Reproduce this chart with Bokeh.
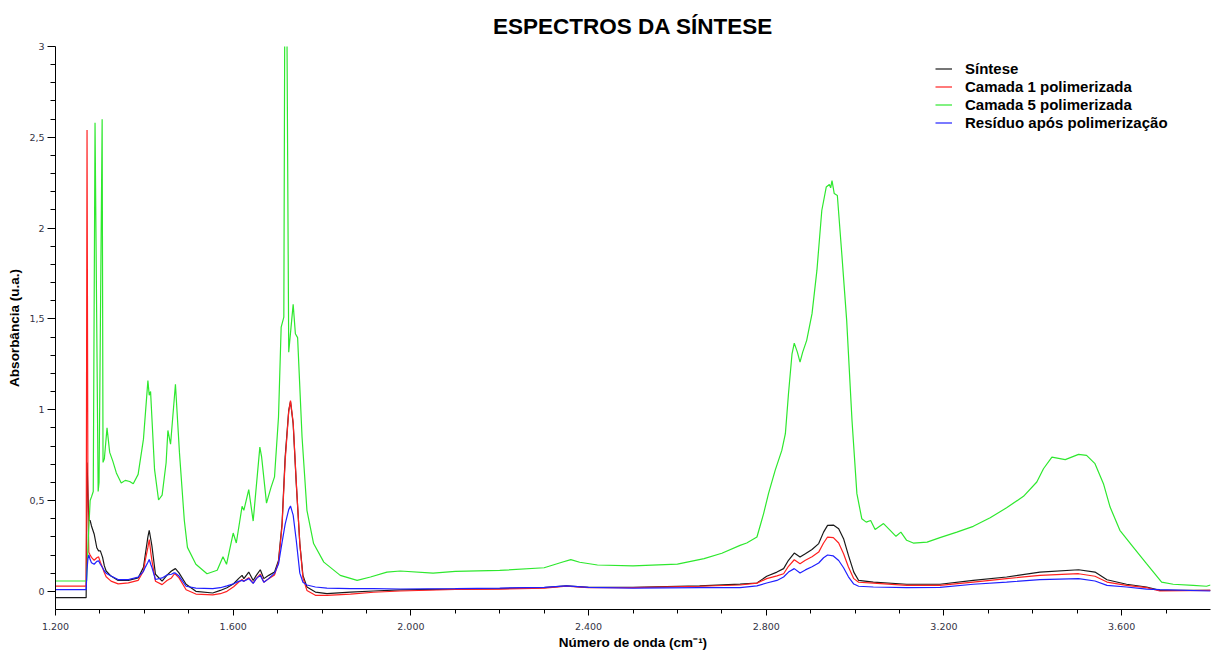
from bokeh.plotting import figure
from bokeh.models import FixedTicker, Legend, LegendItem, Range1d
from bokeh.embed import file_html
from bokeh.resources import INLINE

TITLE = "ESPECTROS DA SÍNTESE"
X_LABEL = "Número de onda (cm⁻¹)"
Y_LABEL = "Absorbância (u.a.)"
SERIES_NAMES = ["Síntese", "Camada 1 polimerizada", "Camada 5 polimerizada", "Resíduo após polimerização"]

X_TICKS = [1200, 1600, 2000, 2400, 2800, 3200, 3600]
X_TICK_LABELS = ["1.200", "1.600", "2.000", "2.400", "2.800", "3.200", "3.600"]
X_MINOR = [1300, 1400, 1500, 1700, 1800, 1900, 2100, 2200, 2300, 2500, 2600, 2700,
           2900, 3000, 3100, 3300, 3400, 3500, 3700]
Y_TICKS = [0, 0.5, 1, 1.5, 2, 2.5, 3]
Y_TICK_LABELS = ["0", "0,5", "1", "1,5", "2", "2,5", "3"]
Y_MINOR = [0.1, 0.2, 0.3, 0.4, 0.6, 0.7, 0.8, 0.9, 1.1, 1.2, 1.3, 1.4, 1.6, 1.7, 1.8, 1.9,
           2.1, 2.2, 2.3, 2.4, 2.6, 2.7, 2.8, 2.9]

# shared wavenumbers for the three lower spectra
wn_low = [1200, 1269, 1271, 1273, 1275, 1278, 1281, 1287, 1293, 1297, 1301, 1306, 1310, 1314,
          1325, 1341, 1364, 1386, 1398, 1402, 1408, 1411, 1415, 1417, 1425, 1440, 1451, 1461,
          1467, 1470, 1478, 1494, 1516, 1554, 1571, 1586, 1601, 1612, 1620, 1624, 1635, 1645,
          1652, 1661, 1669, 1680, 1693, 1702, 1710, 1717, 1725, 1729, 1735, 1742, 1750, 1757,
          1766, 1785, 1811, 1864, 1916, 1976, 2100, 2200, 2300, 2350, 2400, 2500, 2650, 2741,
          2779, 2801, 2824, 2839, 2850, 2863, 2876, 2888, 2903, 2918, 2929, 2938, 2951, 2963,
          2974, 2985, 2997, 3008, 3041, 3116, 3191, 3266, 3341, 3416, 3503, 3540, 3567, 3611,
          3656, 3686, 3800]

sintese = [-0.035, -0.035, 0.71, 0.55, 0.39, 0.39, 0.36, 0.316, 0.24, 0.223, 0.223, 0.187, 0.14, 0.112,
           0.084, 0.06, 0.06, 0.074, 0.132, 0.2, 0.30, 0.336, 0.28, 0.25, 0.094, 0.056, 0.089, 0.112,
           0.121, 0.125, 0.102, 0.039, 0.0, -0.009, 0.005, 0.02, 0.042, 0.07, 0.088, 0.07, 0.106, 0.06,
           0.088, 0.119, 0.07, 0.088, 0.106, 0.17, 0.373, 0.739, 0.996, 1.045, 0.923, 0.593, 0.263, 0.088,
           0.024, -0.004, -0.013, -0.004, 0.002, 0.008, 0.012, 0.015, 0.02, 0.03, 0.022, 0.022, 0.03, 0.04,
           0.046, 0.083, 0.106, 0.125, 0.171, 0.211, 0.189, 0.207, 0.23, 0.263, 0.326, 0.363, 0.365, 0.345,
           0.29, 0.198, 0.106, 0.06, 0.051, 0.039, 0.039, 0.06, 0.079, 0.106, 0.119, 0.106, 0.064, 0.039,
           0.024, 0.005, 0.005]

camada1 = [0.029, 0.029, 2.54, 0.5, 0.215, 0.2, 0.187, 0.171, 0.185, 0.19, 0.16, 0.13, 0.102, 0.08,
           0.056, 0.041, 0.047, 0.06, 0.112, 0.17, 0.242, 0.285, 0.205, 0.17, 0.056, 0.037, 0.06, 0.074,
           0.094, 0.094, 0.074, 0.009, -0.015, -0.019, -0.013, 0.0, 0.025, 0.05, 0.065, 0.055, 0.075, 0.045,
           0.07, 0.095, 0.05, 0.07, 0.09, 0.16, 0.36, 0.72, 0.99, 1.05, 0.93, 0.6, 0.26, 0.075,
           0.005, -0.022, -0.022, -0.015, -0.005, 0.002, 0.01, 0.012, 0.018, 0.028, 0.02, 0.02, 0.028, 0.035,
           0.045, 0.07, 0.085, 0.097, 0.138, 0.174, 0.152, 0.171, 0.19, 0.216, 0.266, 0.299, 0.296, 0.266,
           0.207, 0.134, 0.07, 0.05, 0.045, 0.033, 0.033, 0.051, 0.07, 0.088, 0.097, 0.083, 0.051, 0.033,
           0.02, 0.002, 0.005]

residuo = [0.009, 0.009, 0.12, 0.18, 0.2, 0.175, 0.158, 0.149, 0.165, 0.168, 0.149, 0.13, 0.112, 0.1,
           0.084, 0.065, 0.065, 0.078, 0.11, 0.132, 0.16, 0.175, 0.145, 0.132, 0.065, 0.074, 0.09, 0.094,
           0.102, 0.1, 0.084, 0.028, 0.018, 0.015, 0.02, 0.03, 0.042, 0.055, 0.06, 0.055, 0.07, 0.044,
           0.07, 0.088, 0.05, 0.07, 0.1, 0.15, 0.27, 0.37, 0.45, 0.47, 0.42, 0.28, 0.1, 0.05,
           0.035, 0.024, 0.018, 0.015, 0.015, 0.013, 0.015, 0.018, 0.022, 0.03, 0.022, 0.018, 0.02, 0.02,
           0.03, 0.046, 0.06, 0.079, 0.106, 0.125, 0.101, 0.118, 0.135, 0.156, 0.185, 0.2, 0.195, 0.17,
           0.13, 0.08, 0.04, 0.028, 0.024, 0.02, 0.022, 0.039, 0.051, 0.064, 0.07, 0.057, 0.033, 0.024,
           0.012, 0.009, 0.002]

wn_c5 = [1200, 1270, 1274, 1278, 1281, 1285, 1289, 1296, 1298, 1305, 1307, 1310, 1316, 1322, 1329,
         1337, 1348, 1357, 1367, 1375, 1386, 1398, 1408, 1411, 1414, 1423, 1432, 1440, 1449, 1453,
         1459, 1470, 1479, 1490, 1497, 1516, 1541, 1564, 1577, 1585, 1600, 1607, 1620, 1624, 1635,
         1645, 1660, 1664, 1675, 1685, 1693, 1702, 1708, 1714, 1716, 1721, 1725, 1735, 1740, 1745,
         1755, 1766, 1781, 1804, 1841, 1879, 1909, 1946, 1976, 2050, 2100, 2200, 2300, 2340, 2360,
         2380, 2420, 2500, 2600, 2660, 2700, 2741, 2756, 2779, 2794, 2805, 2820, 2835, 2843, 2850,
         2858, 2863, 2870, 2876, 2882, 2891, 2903, 2914, 2925, 2935, 2942, 2945, 2948, 2953, 2960,
         2970, 2981, 2993, 3004, 3015, 3025, 3035, 3045, 3064, 3079, 3092, 3103, 3116, 3131, 3162,
         3191, 3229, 3266, 3304, 3341, 3379, 3409, 3424, 3443, 3473, 3503, 3521, 3540, 3559, 3574,
         3596, 3626, 3656, 3690, 3716, 3761, 3791, 3800]
camada5 = [0.057, 0.057, 0.3, 0.5, 0.52, 0.55, 2.58, 0.55, 0.6, 2.6, 0.71, 0.73, 0.90, 0.765, 0.717,
           0.652, 0.596, 0.611, 0.605, 0.592, 0.644, 0.838, 1.16, 1.08, 1.10, 0.67, 0.503, 0.53, 0.708, 0.886,
           0.81, 1.14, 0.765, 0.39, 0.242, 0.149, 0.097, 0.116, 0.19, 0.149, 0.321, 0.266, 0.468, 0.446, 0.56,
           0.387, 0.794, 0.74, 0.486, 0.571, 0.63, 0.96, 1.455, 1.51, 3.1, 3.1, 1.317, 1.58, 1.418, 1.397,
           0.85, 0.446, 0.263, 0.161, 0.088, 0.06, 0.079, 0.106, 0.112, 0.10, 0.11, 0.115, 0.13, 0.16, 0.175,
           0.16, 0.145, 0.14, 0.15, 0.18, 0.21, 0.253, 0.266, 0.299, 0.428, 0.538, 0.666, 0.776, 0.868, 1.088,
           1.308, 1.367, 1.317, 1.262, 1.317, 1.382, 1.529, 1.767, 2.097, 2.226, 2.24, 2.222, 2.262, 2.19, 2.18,
           1.859, 1.492, 0.941, 0.538, 0.40, 0.381, 0.39, 0.34, 0.373, 0.336, 0.303, 0.326, 0.281, 0.266, 0.271,
           0.296, 0.326, 0.358, 0.405, 0.46, 0.523, 0.602, 0.675, 0.739, 0.725, 0.754, 0.749, 0.703, 0.593, 0.464,
           0.336, 0.244, 0.152, 0.051, 0.039, 0.033, 0.028, 0.035]

COLORS = ["#1a1a1a", "#ff2020", "#2ee82e", "#2020ff"]

p = figure(width=1214, height=653, output_backend="svg", toolbar_location=None,
           x_range=Range1d(1200, 3800), y_range=Range1d(-0.1, 3.0),
           min_border_left=55, min_border_right=4, min_border_top=46, min_border_bottom=44)
p.outline_line_color = None
p.xgrid.grid_line_color = None
p.ygrid.grid_line_color = None
p.background_fill_color = "white"

p.title.text = TITLE
p.title.align = "center"
p.title.text_font = "Liberation Sans"
p.title.text_font_size = "22.5px"
p.title.text_font_style = "bold"
p.title.text_color = "#000000"
p.title.standoff = 16

series = [(wn_low, sintese), (wn_low, camada1), (wn_c5, camada5), (wn_low, residuo)]
renderers = []
for (xs, ys), c in zip(series, COLORS):
    r = p.line(xs, ys, line_color=c, line_width=1.2)
    renderers.append(r)

legend = Legend(items=[LegendItem(label=n, renderers=[r]) for n, r in zip(SERIES_NAMES, renderers)],
                location=(880, 478))
legend.border_line_color = None
legend.background_fill_alpha = 0
legend.padding = 0
legend.margin = 0
legend.spacing = 1
legend.glyph_width = 17
legend.glyph_height = 17
legend.label_height = 17
legend.label_standoff = 13
legend.label_text_font = "Liberation Sans"
legend.label_text_font_style = "bold"
legend.label_text_font_size = "15px"
legend.label_text_color = "#000000"
p.add_layout(legend, "center")

xa = p.xaxis[0]
xa.ticker = FixedTicker(ticks=X_TICKS, minor_ticks=X_MINOR)
xa.major_label_overrides = dict(zip(X_TICKS, X_TICK_LABELS))
xa.axis_label = X_LABEL
ya = p.yaxis[0]
ya.ticker = FixedTicker(ticks=Y_TICKS, minor_ticks=Y_MINOR)
ya.major_label_overrides = dict(zip(Y_TICKS, Y_TICK_LABELS))
ya.axis_label = Y_LABEL

for ax in (xa, ya):
    ax.axis_line_color = "#000000"
    ax.major_tick_line_color = "#000000"
    ax.minor_tick_line_color = "#000000"
    ax.major_tick_in = 0
    ax.minor_tick_in = 0
    ax.major_label_text_font = "DejaVu Sans"
    ax.major_label_text_font_size = "9.5px"
    ax.major_label_text_color = "#333344"
    ax.axis_label_text_font = "Liberation Sans"
    ax.axis_label_text_font_style = "bold"
    ax.axis_label_text_font_size = "13.5px"
    ax.axis_label_text_color = "#000000"
xa.major_tick_out = 6
xa.minor_tick_out = 4
xa.major_label_standoff = 7
xa.axis_label_standoff = 2
ya.major_tick_out = 8
ya.minor_tick_out = 5
ya.major_label_standoff = 3
ya.axis_label_standoff = 4

open("out.html", "w").write(file_html(p, INLINE))
